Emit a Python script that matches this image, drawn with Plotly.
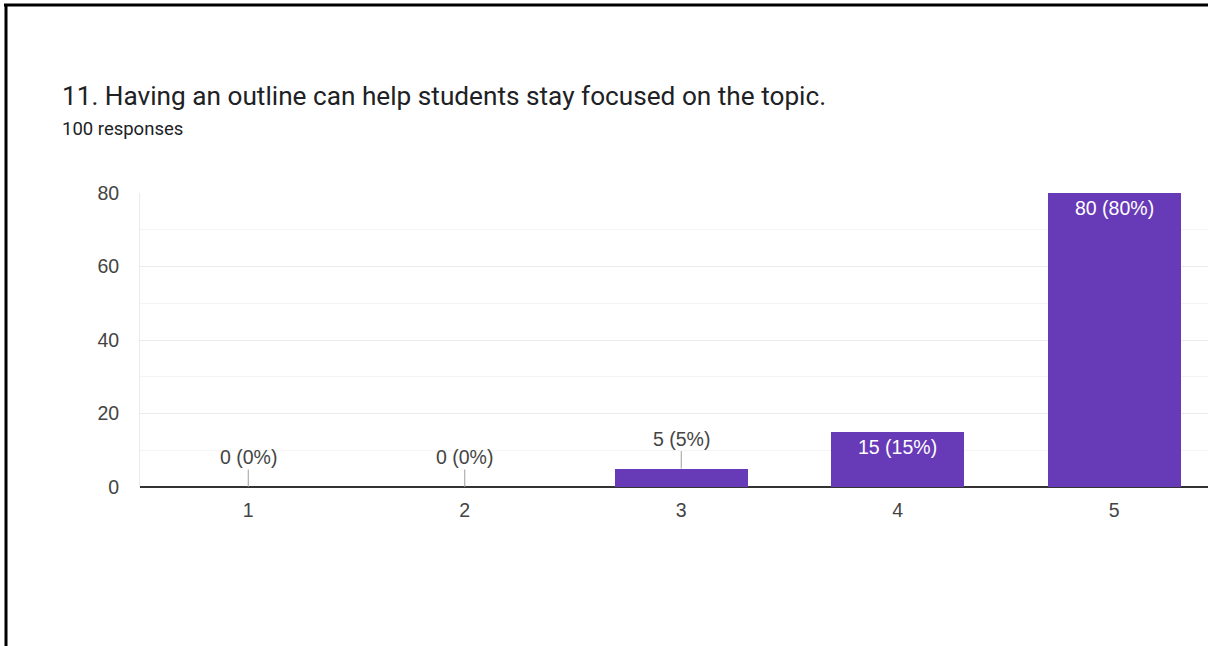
import plotly.graph_objects as go

# Survey question 11: Likert responses (1-5)
categories = ["1", "2", "3", "4", "5"]
counts = [0, 0, 5, 15, 80]
total_responses = 100
title_text = "11. Having an outline can help students stay focused on the topic."
subtitle_text = f"{total_responses} responses"
y_ticks = [0, 20, 40, 60, 80]

W, H = 1208, 646
ML, MR, MT, MB = 140, 0, 193, 159
PW, PH = W - ML - MR, H - MT - MB

def px_x(p):
    return (p - ML) / PW

def px_y(p):
    return (H - MB - p) / PH

PURPLE = "#673ab7"
HEAD_FONT = "Roboto"
CHART_FONT = "Liberation Sans, Arial, sans-serif"
LABEL_SIZE = 19.5

fig = go.Figure(
    go.Bar(
        x=[int(c) for c in categories],
        y=counts,
        width=0.615,
        marker=dict(color=PURPLE, line=dict(width=0)),
        hoverinfo="skip",
    )
)

annotations = []
for c, v in zip(categories, counts):
    label = f"{v} ({round(100 * v / total_responses)}%)"
    if v < 8:
        annotations.append(dict(
            x=int(c), y=v, xref="x", yref="y", text=label,
            showarrow=True, arrowhead=0, arrowwidth=1, arrowcolor="#9e9e9e",
            ax=0, ay=-30, font=dict(family=CHART_FONT, size=LABEL_SIZE, color="#444444"),
        ))
    else:
        annotations.append(dict(
            x=int(c), y=v, xref="x", yref="y", text=label,
            showarrow=False, yanchor="middle", yshift=-15,
            font=dict(family=CHART_FONT, size=LABEL_SIZE, color="#ffffff"),
        ))

annotations.append(dict(
    x=px_x(60), y=px_y(96), xref="paper", yref="paper", text=title_text,
    showarrow=False, xanchor="left", yanchor="middle",
    font=dict(family=HEAD_FONT, size=26.2, color="#202124"),
))
annotations.append(dict(
    x=px_x(60), y=px_y(129), xref="paper", yref="paper", text=subtitle_text,
    showarrow=False, xanchor="left", yanchor="middle",
    font=dict(family=HEAD_FONT, size=18.5, color="#202124"),
))

# frame lines along the top and left edges
shapes = [
    dict(type="line", xref="paper", yref="paper",
         x0=px_x(4), x1=px_x(W + 5), y0=px_y(5), y1=px_y(5),
         line=dict(color="#000000", width=3)),
    dict(type="line", xref="paper", yref="paper",
         x0=px_x(6), x1=px_x(6), y0=px_y(4), y1=px_y(H + 5),
         line=dict(color="#000000", width=3)),
]

fig.update_layout(
    width=W, height=H,
    margin=dict(l=ML, r=MR, t=MT, b=MB, pad=0),
    paper_bgcolor="#ffffff", plot_bgcolor="#ffffff",
    showlegend=False,
    annotations=annotations,
    shapes=shapes,
    bargap=0,
)

fig.update_xaxes(
    range=[0.5, 0.5 + PW / 216.5],
    tickmode="array", tickvals=[int(c) for c in categories], ticktext=categories,
    showgrid=False, zeroline=False, showline=False,
    ticks="", ticklabelstandoff=9,
    tickfont=dict(family=CHART_FONT, size=LABEL_SIZE, color="#444444"),
    fixedrange=True,
)
fig.update_yaxes(
    range=[0, 80],
    tickmode="array", tickvals=y_ticks,
    showgrid=True, gridcolor="#ebebeb", gridwidth=1,
    minor=dict(dtick=10, showgrid=True, gridcolor="#f4f4f4", gridwidth=1, tick0=0),
    zeroline=True, zerolinecolor="#333333", zerolinewidth=1.5,
    showline=True, linecolor="#ebebeb", linewidth=1,
    ticks="", ticklabelstandoff=16,
    tickfont=dict(family=CHART_FONT, size=LABEL_SIZE, color="#444444"),
    fixedrange=True,
)

fig.write_html("out.html", config={"displayModeBar": False})
